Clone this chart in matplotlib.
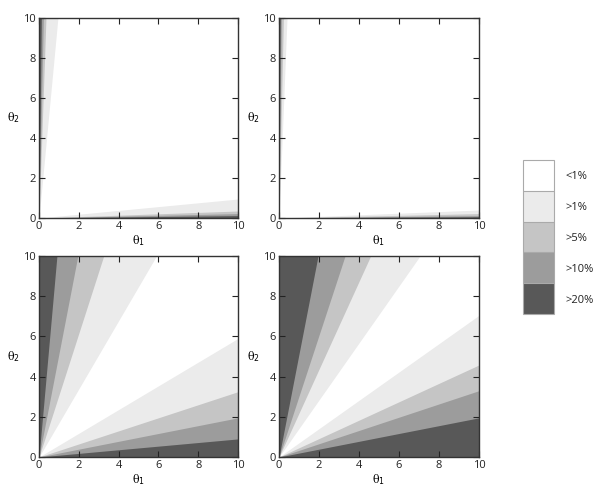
import numpy as np
import matplotlib
matplotlib.use("Agg")
import matplotlib.pyplot as plt
from matplotlib.colors import ListedColormap, BoundaryNorm
import matplotlib.colorbar as mcolorbar

plt.rcParams['font.family'] = ['Open Sans', 'DejaVu Sans']

# Category labels (darkest first) and their grey colours
categories = [">20%", ">10%", ">5%", ">1%", "<1%"]
colors = ["#585858", "#9c9c9c", "#c5c5c5", "#ebebeb", "#ffffff"]

# Boundary ratios min(θ1,θ2)/max(θ1,θ2) below which each category applies
# order: >20%, >10%, >5%, >1%
ratios_tl = [0.012, 0.022, 0.035, 0.095]
ratios_tr = [0.006, 0.012, 0.022, 0.040]
ratios_bl = [0.090, 0.195, 0.325, 0.590]
ratios_br = [0.195, 0.330, 0.458, 0.705]

ticks = [0, 2, 4, 6, 8, 10]
theta_max = 10

fig = plt.figure(figsize=(6.0, 4.97), dpi=100)
W, H = 600, 497

def ax_at(x0, y0, x1, y1):
    return fig.add_axes([x0 / W, 1 - y1 / H, (x1 - x0) / W, (y1 - y0) / H])

panels = [
    (ratios_tl, (39, 18, 238, 218)),
    (ratios_tr, (279, 18, 479, 218)),
    (ratios_bl, (39, 256, 238, 457)),
    (ratios_br, (279, 256, 479, 457)),
]

t = np.linspace(0, theta_max, 200)
for ratios, box in panels:
    ax = ax_at(*box)
    # paint lightest band first, darker bands on top
    for r, c in zip(ratios[::-1], colors[3::-1]):
        ax.fill_between(t, 0, r * t, color=c, lw=0)
        ax.fill_betweenx(t, 0, r * t, color=c, lw=0)
    ax.set_xlim(0, theta_max)
    ax.set_ylim(0, theta_max)
    ax.set_xticks(ticks)
    ax.set_yticks(ticks)
    ax.tick_params(direction='in', top=True, right=True, length=4, width=0.8,
                   labelsize=8, pad=2, color='#222222', labelcolor='#222222')
    for s in ax.spines.values():
        s.set_linewidth(1.0)
        s.set_color('#333333')
    ax.set_xlabel('θ$_1$', fontsize=8, labelpad=1, family=['DejaVu Serif'])
    ax.set_ylabel('θ$_2$', fontsize=8, labelpad=7, rotation=0, va='center',
                  family=['DejaVu Serif'])

# Legend colour bar
cax = ax_at(523, 160, 554, 314)
cmap = ListedColormap(colors)
norm = BoundaryNorm(np.arange(len(categories) + 1), cmap.N)
cb = mcolorbar.ColorbarBase(cax, cmap=cmap, norm=norm, orientation='vertical',
                            drawedges=True)
cb.set_ticks(np.arange(len(categories)) + 0.5)
cb.set_ticklabels(categories)
cb.minorticks_off()
cb.ax.tick_params(which='both', length=0, labelsize=8, pad=8, labelcolor='#222222')
cb.outline.set_edgecolor('#aaaaaa')
cb.outline.set_linewidth(0.8)
cb.dividers.set_color('#aaaaaa')
cb.dividers.set_linewidth(0.8)

fig.savefig("out.png", dpi=100)
